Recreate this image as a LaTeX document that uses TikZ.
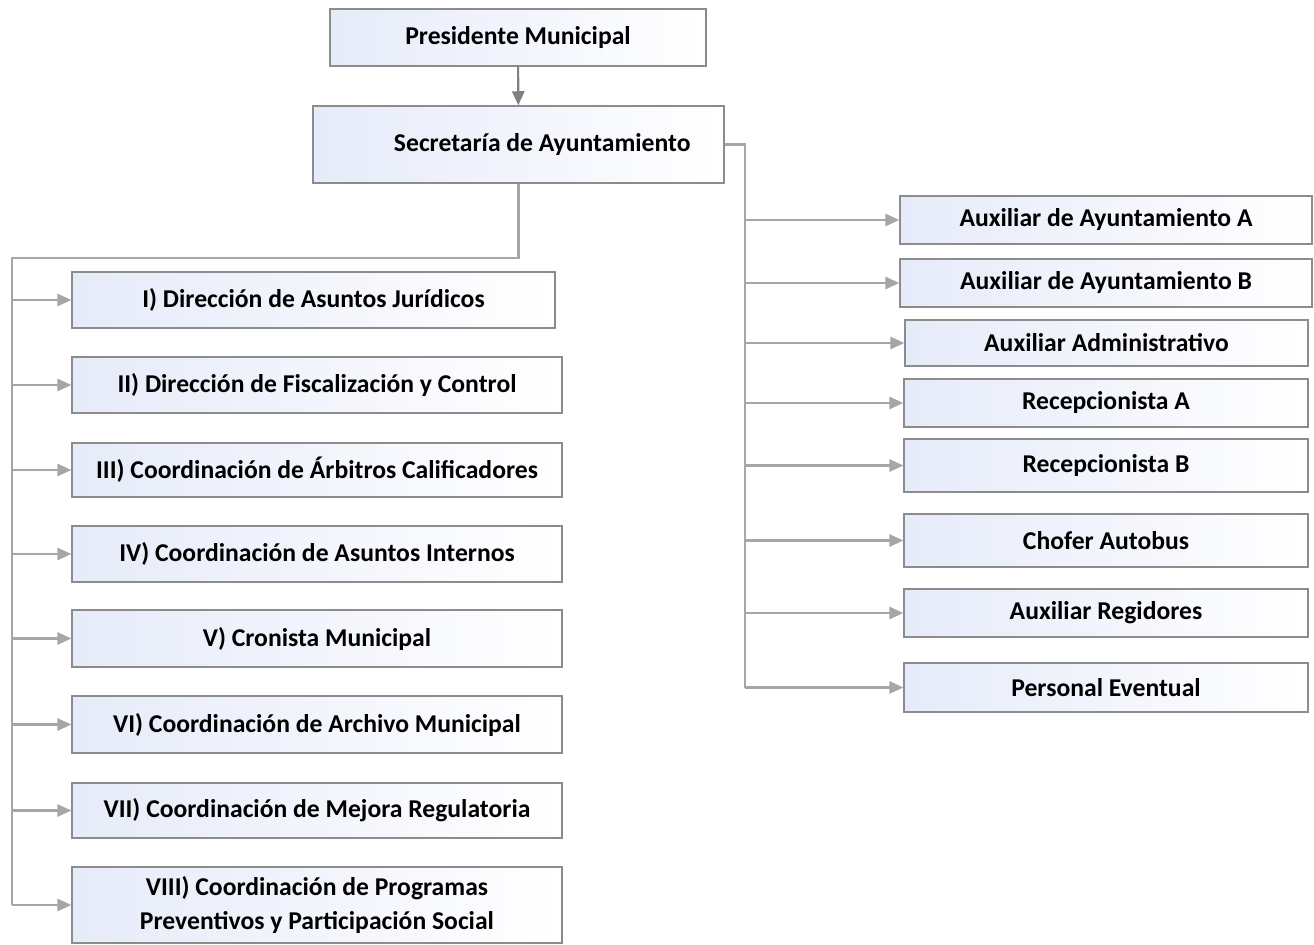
\documentclass[tikz,border=0pt]{standalone}
\usepackage{fontspec}
\setmainfont{Carlito}
\usetikzlibrary{arrows.meta,shadows}
\definecolor{linegray}{RGB}{166,166,166}
\definecolor{darkline}{RGB}{128,128,128}
\definecolor{boxedge}{RGB}{140,140,140}
\definecolor{boxblue}{RGB}{230,235,249}
\begin{document}
\begin{tikzpicture}[x=0.02cm,y=-0.02cm]
  \tikzstyle{unit} = [draw=boxedge, line width=0.8pt, left color=boxblue, right color=white,
    drop shadow={shadow xshift=0.8pt, shadow yshift=-0.8pt, opacity=0.3},
    font=\fontsize{14.6}{19}\selectfont\bfseries, align=center, inner sep=0pt]
  \tikzstyle{conn} = [draw=linegray, line width=1.2pt]
  \tikzstyle{tip} = [-{Triangle[length=8pt,width=7pt]}]
  \useasboundingbox (0,0) rectangle (1314,945);

  \node[unit, minimum width=7.52cm, minimum height=1.14cm] (pres) at (518,37.5) {Presidente Municipal};
  \node[unit, minimum width=8.22cm, minimum height=1.54cm] (sec) at (518.5,144.5) {\hspace*{0.95cm}Secretaría de Ayuntamiento};
  \draw[conn, draw=darkline, tip] (pres) -- (sec);

  % left column
  \foreach \n/\x/\y/\w/\h/\txt in {
      1/313.5/300/9.66/1.12/{I) Dirección de Asuntos Jurídicos},
      2/317/385/9.8/1.12/{II) Dirección de Fiscalización y Control},
      3/317/470/9.8/1.08/{III) Coordinación de Árbitros Calificadores},
      4/317/554/9.8/1.12/{IV) Coordinación de Asuntos Internos},
      5/317/638.5/9.8/1.14/{V) Cronista Municipal},
      6/317/724.5/9.8/1.14/{VI) Coordinación de Archivo Municipal},
      7/317/810.5/9.8/1.1/{VII) Coordinación de Mejora Regulatoria},
      8/317/905/9.8/1.52/{VIII) Coordinación de Programas\\Preventivos y Participación Social}}{
    \node[unit, minimum width=\w cm, minimum height=\h cm] (l\n) at (\x,\y) {\txt};
  }

  % right column
  \foreach \n/\x/\y/\w/\h/\txt in {
      1/1106/220/8.24/0.96/{Auxiliar de Ayuntamiento A},
      2/1106/283/8.24/0.96/{Auxiliar de Ayuntamiento B},
      3/1106.5/343/8.06/0.92/{Auxiliar Administrativo},
      4/1106/403/8.08/0.96/{Recepcionista A},
      5/1106/465.5/8.08/1.06/{Recepcionista B},
      6/1106/540.5/8.08/1.06/{Chofer Autobus},
      7/1106/613/8.08/0.96/{Auxiliar Regidores},
      8/1106/687.5/8.08/0.98/{Personal Eventual}}{
    \node[unit, minimum width=\w cm, minimum height=\h cm] (r\n) at (\x,\y) {\txt};
  }

  \coordinate (lturn) at (12,258);
  \coordinate (rturn) at (745,144.5);
  \draw[conn] (sec.south) |- (lturn) -- (lturn |- l8.west);
  \draw[conn] (sec.east) -- (rturn) -- (rturn |- r8.west);
  \foreach \n in {1,...,8}{
    \draw[conn, tip] (lturn |- l\n.west) -- (l\n.west);
    \draw[conn, tip] (rturn |- r\n.west) -- (r\n.west);
  }
\end{tikzpicture}
\end{document}
